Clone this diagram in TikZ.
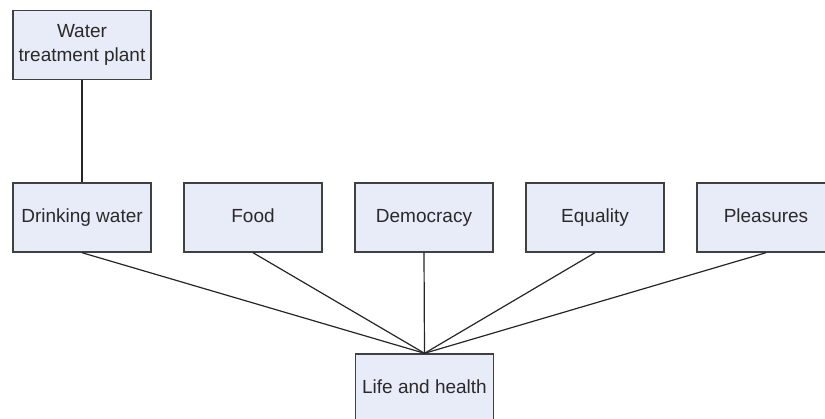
\documentclass[tikz,border=0pt]{standalone}
\usepackage{fontspec}
\setmainfont{Liberation Sans}
\begin{document}
\begin{tikzpicture}[x=1pt,y=-1pt,
  basebox/.style={draw=boxborder, line width=1.4pt, fill=boxfill, minimum width=138pt, minimum height=69pt,
    inner sep=0pt, align=center, font=\fontsize{19}{24.5}\selectfont, text=textcol},
  box/.style={basebox, text height=13.5pt, text depth=4pt},
  link/.style={draw=black!85, line width=1.2pt}]
\definecolor{boxfill}{HTML}{E8ECF8}
\definecolor{boxborder}{HTML}{404040}
\definecolor{textcol}{HTML}{2A2A2A}
\useasboundingbox (0,0) rectangle (825,418);
\clip (0,0) rectangle (825,418);
\fill[white] (0,0) rectangle (825,418);
\node[basebox] (wtp) at (82,45) {Water\\treatment plant};
\node[box] (dw) at (82,217.5) {Drinking water};
\node[box] (food) at (253,217.5) {Food};
\node[box] (dem) at (424,217.5) {Democracy};
\node[box] (eq) at (595,217.5) {Equality};
\node[box] (ple) at (766,217.5) {Pleasures};
\node[box] (life) at (424.5,388.5) {Life and health};
\draw[link] (wtp.south) -- (dw.north);
\foreach \n in {dw,food,dem,eq,ple}{\draw[link] (\n.south) -- (life.north);}
\end{tikzpicture}
\end{document}
